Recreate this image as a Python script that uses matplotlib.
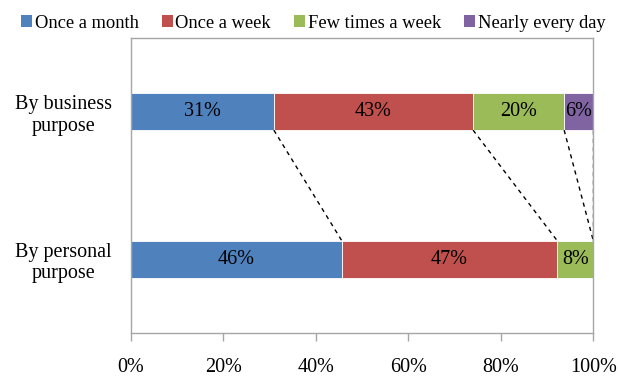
import numpy as np
import matplotlib.pyplot as plt
from matplotlib.patches import Patch

plt.rcParams['font.family'] = ['Liberation Serif', 'DejaVu Serif']

# share of respondents by frequency, per purpose (%)
groups = ["By personal\npurpose", "By business\npurpose"]
series = ["Once a month", "Once a week", "Few times a week", "Nearly every day"]
personal = [45.6, 46.6, 7.8, 0.0]
business = [30.9, 43.1, 19.7, 6.3]
colors = ["#4F81BD", "#C0504D", "#9BBB59", "#8064A2"]

values = np.array([personal, business])
ypos = np.arange(len(groups))
bar_h = 0.25

fig = plt.figure(figsize=(6.18, 3.8), dpi=100)
ax = fig.add_axes([0.212, 0.124, 0.748, 0.776])

left = np.zeros(len(groups))
for j, name in enumerate(series):
    w = values[:, j]
    ax.barh(ypos, w, left=left, height=bar_h, color=colors[j],
            edgecolor='white', linewidth=0.6)
    for i in range(len(groups)):
        if w[i] > 0:
            ax.text(left[i] + w[i] / 2, ypos[i], f"{w[i]:.0f}%",
                    ha='center', va='center', fontsize=14.5, color='black')
    left += w

# dashed connectors between segment boundaries of the two bars
cum_p = np.cumsum(personal)
cum_b = np.cumsum(business)
for xb, xp in zip(cum_b, cum_p):
    ax.plot([xb, xp], [ypos[1] - bar_h / 2, ypos[0] + bar_h / 2],
            ls=(0, (3, 3)), color='black', lw=1.0)

ax.set_xlim(0, 100)
ax.set_ylim(-0.5, 1.5)
ax.set_xticks(np.arange(0, 101, 20))
ax.set_xticklabels([f"{t}%" for t in range(0, 101, 20)], fontsize=14.5)
ax.set_yticks(ypos)
ax.set_yticklabels(groups, fontsize=14.5, multialignment='center')
ax.tick_params(axis='y', length=0, pad=14)
ax.tick_params(axis='x', length=6, width=1, color='#A6A6A6', pad=12)
for s in ax.spines.values():
    s.set_color('#A6A6A6')
    s.set_linewidth(1)

handles = [Patch(facecolor=c, edgecolor='none') for c in colors]
fig.legend(handles, series, loc='upper center', bbox_to_anchor=(0.507, 0.995),
           ncol=4, frameon=False, fontsize=13.3, handlelength=0.6,
           handleheight=0.6, handletextpad=0.15, columnspacing=1.25,
           borderaxespad=0.3)

fig.savefig("out.png", dpi=100)
